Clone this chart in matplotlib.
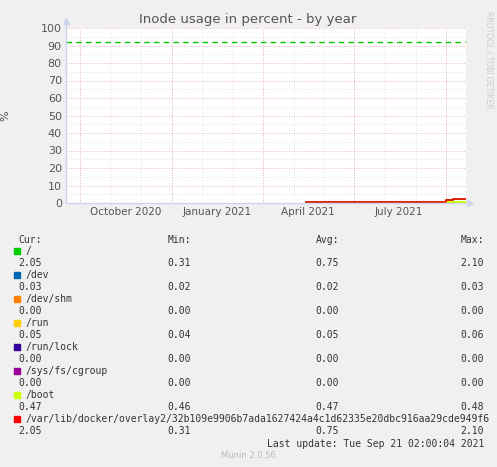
import matplotlib
matplotlib.use("Agg")
import matplotlib.pyplot as plt
import numpy as np

W, H = 497, 467
# x axis: days from left edge of plot
tick_days = [60, 151, 242, 333]
tick_labels = ["October 2020", "January 2021", "April 2021", "July 2021"]
major_days = [14, 106, 197, 288, 380]
minor_days = [14, 44, 75, 106, 136, 167, 197, 228, 258, 288, 319, 350, 380]

root_x = [240, 377, 380, 387, 400]
root_y = [0.31, 0.31, 1.5, 2.1, 2.1]
boot_x = [377, 400]
boot_y = [0.47, 0.47]
warning = 92

names = ["/", "/dev", "/dev/shm", "/run", "/run/lock", "/sys/fs/cgroup", "/boot",
         "/var/lib/docker/overlay2/32b109e9906b7ada1627424a4c1d62335e20dbc916aa29cde949f6"]
colors = ["#00cc00", "#0066b3", "#ff8000", "#ffcc00", "#330099", "#990099", "#ccff00", "#ff0000"]
cur = ["2.05", "0.03", "0.00", "0.05", "0.00", "0.00", "0.47", "2.05"]
mins = ["0.31", "0.02", "0.00", "0.04", "0.00", "0.00", "0.46", "0.31"]
avgs = ["0.75", "0.02", "0.00", "0.05", "0.00", "0.00", "0.47", "0.75"]
maxs = ["2.10", "0.03", "0.00", "0.06", "0.00", "0.00", "0.48", "2.10"]

fig = plt.figure(figsize=(W/100, H/100), dpi=100, facecolor="#f0f0f0")
ax = fig.add_axes([66/W, 1-203/H, 400/W, 175/H], facecolor="white")
ax.set_xlim(0, 400)
ax.set_ylim(0, 100)
for s in ax.spines.values():
    s.set_visible(False)
for d in minor_days:
    ax.axvline(d, color="#dddddd", lw=0.6, ls=(0, (1, 2)), zorder=0)
for v in range(5, 100, 10):
    ax.axhline(v, color="#dddddd", lw=0.6, ls=(0, (1, 2)), zorder=0)
for d in major_days:
    ax.axvline(d, color="#e8a0a0", lw=0.6, ls=(0, (1, 2)), zorder=0)
for v in range(10, 101, 10):
    ax.axhline(v, color="#e8a0a0", lw=0.6, ls=(0, (1, 2)), zorder=0)
ax.axhline(warning, color="#00cc00", lw=1, ls=(0, (4, 3)))
ax.plot(root_x, root_y, color="#00cc00", lw=1.2, drawstyle="steps-post")
ax.plot(boot_x, boot_y, color="#ccff00", lw=1.5, drawstyle="steps-post")
ax.plot(root_x, root_y, color="#ff0000", lw=1.2, drawstyle="steps-post")
ax.set_xticks(tick_days, tick_labels)
ax.set_yticks(range(0, 101, 10))
ax.tick_params(length=0, labelsize=7.5, colors="#555555", pad=3)
ax.tick_params(axis="y", labelsize=8)
ax.set_ylabel("%", color="#555555", fontsize=8, labelpad=22)
ax.plot([0, 404], [0, 0], color="#ccd4f0", lw=1, clip_on=False)
ax.plot([0, 0], [0, 104], color="#ccd4f0", lw=1, clip_on=False)
ax.plot([404], [0], marker=">", color="#ccd4f0", ms=5, clip_on=False)
ax.plot([0], [104], marker="^", color="#ccd4f0", ms=5, clip_on=False)

def ft(x, y, s, **kw):
    fig.text(x/W, 1-y/H, s, va="center", **kw)

ft(248, 19, "Inode usage in percent - by year", ha="center", fontsize=9.5, color="#555555")
fig.text(489/W, 1-60/H, "RRDTOOL / TOBI OETIKER", rotation=270, ha="center", va="center",
         fontsize=5.5, color="#cccccc")
mono = dict(fontsize=7, family="DejaVu Sans Mono", color="#333333")
ft(18, 240, "Cur:", ha="left", **mono)
ft(191, 240, "Min:", ha="right", **mono)
ft(339, 240, "Avg:", ha="right", **mono)
ft(484, 240, "Max:", ha="right", **mono)
for i, n in enumerate(names):
    y0 = 251 + 24*i
    fig.patches.append(plt.Rectangle((14/W, 1-(y0+3)/H), 6/W, 6/H, transform=fig.transFigure,
                                     color=colors[i], figure=fig))
    ft(26, y0, n, ha="left", **mono)
    y1 = y0 + 12
    ft(18, y1, cur[i], ha="left", **mono)
    ft(191, y1, mins[i], ha="right", **mono)
    ft(339, y1, avgs[i], ha="right", **mono)
    ft(484, y1, maxs[i], ha="right", **mono)
ft(484, 444, "Last update: Tue Sep 21 02:00:04 2021", ha="right", **mono)
ft(248, 456, "Munin 2.0.56", ha="center", fontsize=6, color="#bbbbbb")
fig.savefig("out.png", dpi=100, facecolor=fig.get_facecolor())
